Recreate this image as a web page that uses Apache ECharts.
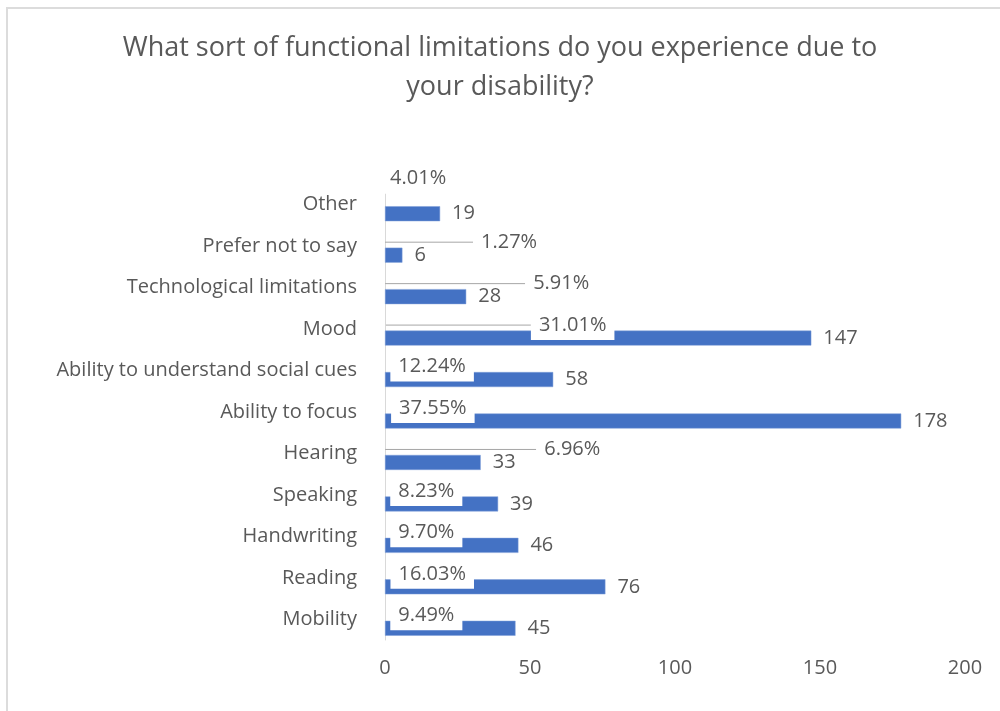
<!DOCTYPE html>
<html>
<head>
<meta charset="utf-8">
<script src="https://cdn.jsdelivr.net/npm/echarts@6/dist/echarts.min.js"></script>
<style>
html,body{margin:0;padding:0;background:#fff;}
#frame{position:absolute;left:6px;top:7px;width:1000px;height:720px;border-left:2px solid #dcdcdc;border-top:2px solid #dcdcdc;}
#chart{position:absolute;left:0;top:0;width:1000px;height:711px;}
</style>
</head>
<body>
<div id="frame"></div>
<div id="chart"></div>
<script>
const titleText = 'What sort of functional limitations do you experience due to\nyour disability?';
const categories = ['Mobility','Reading','Handwriting','Speaking','Hearing','Ability to focus','Ability to understand social cues','Mood','Technological limitations','Prefer not to say','Other'];
const counts = [45, 76, 46, 39, 33, 178, 58, 147, 28, 6, 19];
const percents = [9.49, 16.03, 9.70, 8.23, 6.96, 37.55, 12.24, 31.01, 5.91, 1.27, 4.01];
const xTicks = [0, 50, 100, 150, 200];

// label placement (layout only)
const pctLabelShift = [[0,0],[0,0],[0,0],[0,0],[146,0],[0,0],[0,0],[140,0],[135,0],[83,0],[-8,-22]];
const pctLabelDown = 5;

const FONT = 'Open Sans';
const TXT = '#595959';

const pctData = percents.map((p, i) => ({
  value: p / 100,
  labelLine: {show: pctLabelShift[i][0] > 0}
}));

const chart = echarts.init(document.getElementById('chart'), null, {renderer:'canvas'});
chart.setOption({
  animation: false,
  title: {
    text: titleText,
    left: 'center',
    top: 24,
    textStyle: {fontFamily: FONT, fontSize: 27, fontWeight: 'normal', color: TXT, lineHeight: 39}
  },
  grid: {left: 385, right: 35, top: 184, bottom: 71, containLabel: false},
  xAxis: {
    type: 'value',
    min: xTicks[0], max: xTicks[xTicks.length-1], interval: 50,
    axisLine: {show: false}, axisTick: {show: false}, splitLine: {show: false},
    axisLabel: {fontFamily: FONT, fontSize: 20, color: TXT, margin: 18}
  },
  yAxis: {
    type: 'category',
    data: categories,
    axisLine: {show: true, lineStyle: {color: '#d9d9d9', width: 1}},
    axisTick: {show: false},
    axisLabel: {fontFamily: FONT, fontSize: 20, color: TXT, margin: 28}
  },
  series: [
    {
      name: 'Percent',
      type: 'bar',
      z: 3,
      barWidth: 15,
      barGap: '20%',
      data: pctData,
      itemStyle: {color: 'rgba(0,0,0,0)'},
      label: {
        show: true,
        position: 'right',
        distance: 5,
        formatter: (p) => percents[p.dataIndex].toFixed(2) + '%',
        fontFamily: FONT, fontSize: 20, color: TXT,
        backgroundColor: '#ffffff',
        padding: [5, 8]
      },
      labelLine: {show: true, lineStyle: {color: '#a6a6a6', width: 1}},
      labelLayout: (params) => {
        const s = pctLabelShift[params.dataIndex];
        return {dx: s[0], dy: s[1] + pctLabelDown};
      }
    },
    {
      name: 'Count',
      type: 'bar',
      z: 2,
      barWidth: 15,
      barGap: '20%',
      data: counts,
      itemStyle: {color: '#4472C4', borderColor: '#7f9fd8', borderWidth: 0.5},
      label: {
        show: true,
        position: 'right',
        distance: 12,
        fontFamily: FONT, fontSize: 20, color: TXT
      }
    }
  ]
});
</script>
</body>
</html>
